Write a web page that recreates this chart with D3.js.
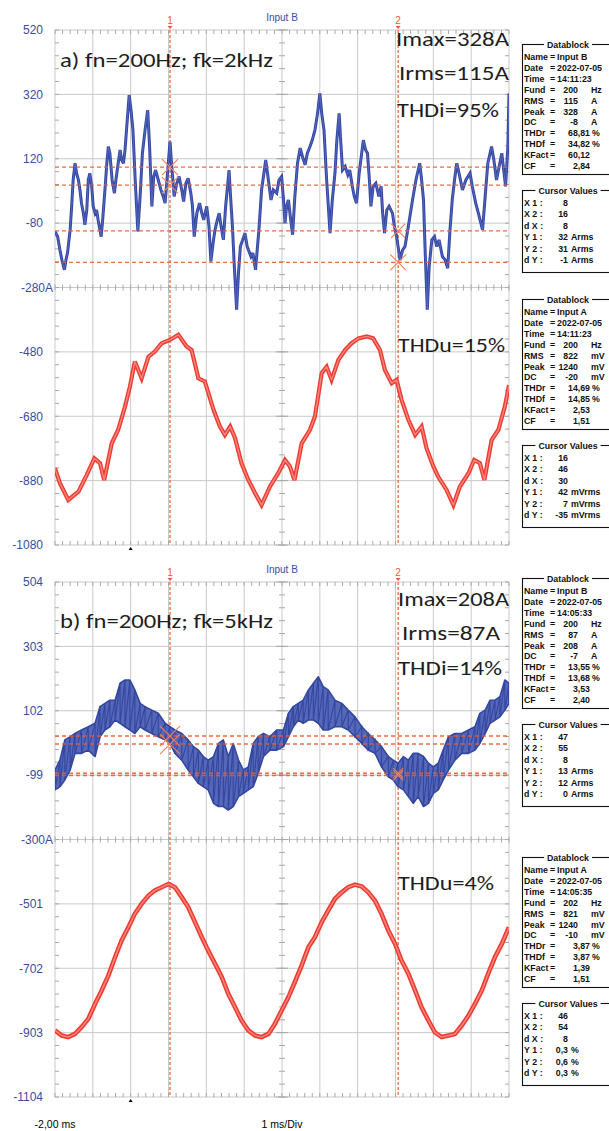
<!DOCTYPE html>
<html>
<head>
<meta charset="utf-8">
<style>
body { margin: 0; background: #fff; }
svg { display: block; }
</style>
</head>
<body>
<div id="area"></div>
<script src="https://d3js.org/d3.v7.min.js"></script>
<script>
// ---------- data (time in ms, value in screen units) ----------
ticksA = [520, 320, 120, -80, -280, -480, -680, -880, -1080];
ticksB = [504, 303, 102, -99, -300, -501, -702, -903, -1104];

// a) current, Input B
tA = [-2.00,-1.93,-1.87,-1.81,-1.75,-1.71,-1.67,-1.60,-1.56,-1.52,-1.47,-1.43,-1.38,-1.34,-1.30,-1.25,-1.21,-1.16,-1.12,-1.08,
      -1.03,-0.99,-0.94,-0.90,-0.86,-0.78,-0.74,-0.68,-0.63,-0.59,-0.55,-0.49,-0.43,-0.39,-0.33,-0.28,-0.24,-0.19,-0.15,-0.11,
      -0.04,0.01,0.06,0.12,0.19,0.25,0.31,0.38,0.45,0.50,0.56,0.61,0.66,0.73,0.80,0.86,0.91,0.96,1.04,1.08,
      1.15,1.22,1.28,1.35,1.40,1.46,1.52,1.59,1.63,1.68,1.75,1.82,1.88,1.93,2.01,2.07,2.12,2.19,2.23,2.29,
      2.34,2.39,2.45,2.51,2.60,2.64,2.69,2.74,2.80,2.85,2.90,2.96,3.02,3.08,3.18,3.23,3.30,3.39,3.46,3.57,
      3.64,3.71,3.77,3.86,3.92,3.99,4.04,4.08,4.12,4.17,4.23,4.28,4.34,4.41,4.48,4.54,4.61,4.67,4.74,4.80,
      4.87,4.94,5.00,5.05,5.11,5.18,5.27,5.33,5.40,5.45,5.51,5.55,5.60,5.67,5.74,5.79,5.86,5.91,5.97,6.04,
      6.15,6.21,6.26,6.31,6.35,6.41,6.48,6.56,6.62,6.66,6.71,6.77,6.83,6.92,6.97,7.03,7.12,7.19,7.25,7.34,
      7.45,7.54,7.64,7.69,7.74,7.78,7.84,7.89,7.96,8.03,8.09,8.15,8.24,8.31,8.38,8.44,8.50,8.56,8.62,8.68,
      8.77,8.86,8.97,9.03,9.12,9.19,9.30,9.35,9.44,9.54,9.60,9.67,9.74,9.81,9.87,9.91,9.97,10.00];
iA = [-106,-122,-163,-199,-225,-194,-173,-101,-28,54,106,75,54,23,-18,-49,-85,-39,54,75,
      34,-28,-49,-39,-70,-122,-70,23,106,158,137,54,13,54,106,147,116,106,147,209,
      318,271,209,54,-106,3,137,209,271,158,-28,65,85,54,23,3,-18,54,173,106,
      3,44,65,23,-13,44,59,13,-23,-122,-49,-18,-49,-70,-28,-90,-199,-132,-101,-70,
      -49,-90,-132,-28,85,3,-90,-215,-349,-235,-153,-132,-111,-153,-184,-173,-225,-101,23,116,
      54,-8,23,13,54,65,-8,-80,-28,-8,-70,-116,3,106,153,127,101,137,158,178,
      209,261,323,261,209,54,-111,-8,75,178,261,178,85,96,70,85,34,3,-18,75,
      178,147,137,54,-28,34,44,3,34,-49,-111,-39,-28,-49,-90,-122,-194,-163,-153,-90,
      -8,54,106,54,-8,-153,-349,-215,-132,-122,-153,-132,-184,-194,-220,-101,-8,54,106,75,
      23,54,75,34,-18,-49,-101,-28,106,158,116,54,96,137,75,34,158,323];

// a) voltage, Input A
tUA = [-2.00,-1.87,-1.65,-1.38,-1.16,-0.96,-0.81,-0.70,-0.50,-0.33,-0.15,-0.02,0.11,0.29,0.47,0.64,0.82,1.04,1.26,1.48,
       1.61,1.79,1.96,2.19,2.36,2.49,2.63,2.76,2.93,3.11,3.29,3.46,3.68,3.90,4.08,4.21,4.33,4.52,4.74,4.87,
       5.05,5.18,5.31,5.49,5.67,5.84,6.02,6.24,6.41,6.59,6.72,6.90,7.03,7.16,7.34,7.52,7.69,7.82,8.00,8.13,
       8.35,8.53,8.70,8.93,9.08,9.23,9.35,9.54,9.72,9.89,10.00];
uA = [-842,-888,-940,-914,-862,-811,-826,-878,-764,-722,-650,-588,-510,-562,-495,-479,-453,-443,-427,-463,
      -474,-562,-572,-660,-712,-738,-712,-748,-826,-878,-919,-956,-899,-857,-816,-836,-878,-764,-722,-681,
      -546,-526,-567,-505,-474,-453,-438,-432,-438,-474,-536,-577,-567,-629,-691,-738,-712,-779,-836,-868,
      -909,-956,-899,-857,-816,-826,-878,-754,-722,-650,-583];

// b) current, Input B (upper / lower edge of the ripple band)
tB = [-2.00,-1.87,-1.74,-1.60,-1.47,-1.30,-1.12,-0.94,-0.81,-0.68,-0.55,-0.41,-0.28,-0.15,-0.02,0.11,0.25,0.38,0.56,0.73,
      0.91,1.04,1.17,1.35,1.52,1.66,1.79,1.92,2.05,2.19,2.32,2.45,2.58,2.71,2.85,2.98,3.11,3.24,3.37,3.51,
      3.68,3.86,4.04,4.17,4.30,4.43,4.56,4.70,4.83,4.96,5.09,5.22,5.40,5.58,5.75,5.93,6.11,6.28,6.46,6.63,
      6.81,6.94,7.07,7.21,7.34,7.47,7.60,7.74,7.87,8.00,8.13,8.26,8.40,8.57,8.75,8.93,9.10,9.23,9.37,9.50,
      9.63,9.76,9.89,10.00];
iBhi = [-83,-52,11,21,31,42,52,63,115,125,135,135,188,198,198,167,125,115,104,94,
        63,52,42,31,11,-10,-21,-41,-52,-41,0,11,-41,0,-52,-83,-73,0,21,31,
        21,42,42,94,115,125,135,167,188,208,177,167,135,125,104,83,52,31,11,-10,
        -41,-52,-62,-41,-52,-31,-31,-41,-62,-73,-62,-21,21,31,31,42,52,94,104,135,
        135,146,198,188];
iBlo = [-145,-135,-114,-83,-31,-31,-21,-41,21,42,52,73,63,52,42,31,52,42,31,21,
        11,0,-31,-52,-83,-104,-125,-135,-145,-187,-197,-197,-208,-197,-166,-156,-145,-135,-93,-41,
        -21,-21,-10,21,52,73,63,73,73,63,42,42,52,52,42,21,0,-21,-31,-73,
        -104,-114,-135,-145,-166,-187,-166,-197,-187,-156,-145,-114,-83,-52,-31,-31,-21,0,31,63,
        73,83,104,125];

// b) voltage, Input A
tUB = [-2.00,-1.82,-1.65,-1.47,-1.30,-1.12,-0.94,-0.77,-0.59,-0.41,-0.24,-0.06,0.11,0.29,0.47,0.64,0.82,1.00,1.17,1.35,
       1.52,1.70,1.88,2.05,2.23,2.41,2.58,2.76,2.93,3.11,3.29,3.46,3.64,3.81,3.99,4.17,4.34,4.52,4.70,4.87,
       5.05,5.22,5.40,5.58,5.75,5.93,6.11,6.28,6.46,6.63,6.81,6.99,7.16,7.34,7.52,7.69,7.87,8.04,8.22,8.40,
       8.57,8.75,8.93,9.10,9.28,9.45,9.63,9.81,10.00];
uB = [-896,-912,-917,-907,-886,-860,-813,-772,-725,-667,-615,-574,-532,-501,-475,-459,-449,-439,-449,-480,
      -511,-558,-605,-647,-688,-730,-782,-824,-865,-896,-912,-917,-907,-876,-834,-792,-745,-693,-636,-605,
      -558,-522,-485,-465,-449,-441,-447,-465,-491,-532,-584,-626,-678,-719,-772,-824,-865,-902,-917,-912,
      -907,-881,-850,-813,-772,-719,-667,-626,-574];

cursorT = [1.04, 7.07];
levelsA = [94, 38, -104, -202];
levelsB = [23, -2, -93, -100];

dbLabels = ["Name", "Date", "Time", "Fund", "RMS", "Peak", "DC", "THDr", "THDf", "KFact", "CF"];
unitsB = ["", "", "", "Hz", "A", "A", "A", "%", "%", "", ""];
unitsA = ["", "", "", "Hz", "mV", "mV", "mV", "%", "%", "", ""];
db1 = ["Input B", "2022-07-05", "14:11:23", "200", "115", "328", "-8", "68,81", "34,82", "60,12", "2,84"];
db2 = ["Input A", "2022-07-05", "14:11:23", "200", "822", "1240", "-20", "14,69", "14,85", "2,53", "1,51"];
db3 = ["Input B", "2022-07-05", "14:05:33", "200", "87", "208", "-7", "13,55", "13,68", "3,53", "2,40"];
db4 = ["Input A", "2022-07-05", "14:05:35", "202", "821", "1240", "-10", "3,87", "3,87", "1,39", "1,51"];
curLabels = ["X 1 :", "X 2 :", "d X :", "Y 1 :", "Y 2 :", "d Y :"];
cur1 = [["8", ""], ["16", ""], ["8", ""], ["32", "Arms"], ["31", "Arms"], ["-1", "Arms"]];
cur2 = [["16", ""], ["46", ""], ["30", ""], ["42", "mVrms"], ["7", "mVrms"], ["-35", "mVrms"]];
cur3 = [["47", ""], ["55", ""], ["8", ""], ["13", "Arms"], ["12", "Arms"], ["0", "Arms"]];
cur4 = [["46", ""], ["54", ""], ["8", ""], ["0,3", "%"], ["0,6", "%"], ["0,3", "%"]];

// ---------- layout ----------
width = 609;
height = 1131;
left = 55;
right = 509;

svg = d3.select("#area").append("svg")
    .attr("width", width)
    .attr("height", height);

x = d3.scaleLinear().domain([-2, 10]).range([left, right]);
yA = d3.scaleLinear().domain([ticksA[8], ticksA[0]]).range([545, 30]);
yB = d3.scaleLinear().domain([ticksB[8], ticksB[0]]).range([1097, 582]);

gridColor = "#c9c9c9";
tickColor = "#a9a9a9";
cursorColor = "#ee5a2c";

function drawGrid(y, ticks, name) {
  const g = svg.append("g");
  const top = y(ticks[0]), bot = y(ticks[8]), mid = y(ticks[4]);
  const step = (ticks[0] - ticks[1]) / 5;

  g.selectAll(".v").data(d3.range(-2, 10.01, 1)).join("line")
      .attr("x1", d => x(d)).attr("x2", d => x(d))
      .attr("y1", top).attr("y2", bot)
      .attr("stroke", gridColor);
  g.selectAll(".h").data(ticks).join("line")
      .attr("x1", left).attr("x2", right)
      .attr("y1", d => y(d)).attr("y2", d => y(d))
      .attr("stroke", gridColor);

  const minorX = d3.range(-2, 10.001, 0.2);
  const minorY = d3.range(ticks[8], ticks[0] + 0.1, step);
  const tk = [];
  minorX.forEach(t => {
    tk.push([x(t), top, x(t), top + 4]);
    tk.push([x(t), mid - 3, x(t), mid + 3]);
    tk.push([x(t), bot - 4, x(t), bot]);
  });
  minorY.forEach(v => {
    tk.push([left, y(v), left + 4, y(v)]);
    tk.push([x(4) - 3, y(v), x(4) + 3, y(v)]);
    tk.push([right - 4, y(v), right, y(v)]);
  });
  ticks.forEach(v => tk.push([x(4) - 6, y(v), x(4) + 6, y(v)]));
  g.selectAll(".tk").data(tk).join("line")
      .attr("x1", d => d[0]).attr("y1", d => d[1])
      .attr("x2", d => d[2]).attr("y2", d => d[3])
      .attr("stroke", tickColor);

  // value labels
  const ax = svg.append("g")
      .attr("transform", `translate(46,0)`)
      .call(d3.axisLeft(y).tickValues(ticks).tickSize(0).tickPadding(3)
        .tickFormat(d => d === ticks[4] ? d + "A" : String(d)));
  ax.select(".domain").remove();
  ax.selectAll("text")
      .attr("font-family", "Liberation Sans, Arial, sans-serif")
      .attr("font-size", 12)
      .attr("fill", "#3b4ba6");
  ax.selectAll(".tick").filter(d => d === ticks[4]).select("text").attr("x", 7);

  // channel title
  svg.append("text")
      .attr("x", x(4)).attr("y", top - 9)
      .attr("text-anchor", "middle")
      .attr("font-family", "Liberation Sans, Arial, sans-serif")
      .attr("font-size", 10)
      .attr("fill", "#3b4ba6")
      .text(name);

  // trigger marker
  svg.append("path")
      .attr("d", `M${x(0) - 2},${bot + 5}L${x(0) + 2},${bot + 5}L${x(0)},${bot + 2}Z`)
      .attr("fill", "#000");
}

// vertical cursors with their numbers
function drawCursors(y, ticks) {
  const g = svg.append("g");
  const top = y(ticks[0]), bot = y(ticks[8]);
  g.selectAll(".cv").data(cursorT).join("line")
      .attr("x1", d => x(d)).attr("x2", d => x(d))
      .attr("y1", top).attr("y2", bot)
      .attr("stroke", cursorColor).attr("stroke-width", 1.2)
      .attr("stroke-dasharray", "3,2");
  g.selectAll(".cn").data(cursorT).join("text")
      .attr("x", d => x(d)).attr("y", top - 6)
      .attr("text-anchor", "middle")
      .attr("font-family", "Liberation Sans, Arial, sans-serif")
      .attr("font-size", 10)
      .attr("fill", cursorColor)
      .text((d, i) => i + 1);
  g.selectAll(".ct").data(cursorT).join("path")
      .attr("d", d => `M${x(d) - 2.5},${top - 4}L${x(d) + 2.5},${top - 4}L${x(d)},${top - 1}Z`)
      .attr("fill", cursorColor);
}

// horizontal cursor levels and the X marks where they meet the cursors
function drawLevels(y, levels, xs) {
  const g = svg.append("g");
  g.selectAll("line").data(levels).join("line")
      .attr("x1", left).attr("x2", right)
      .attr("y1", d => y(d)).attr("y2", d => y(d))
      .attr("stroke", cursorColor).attr("stroke-width", 1.4)
      .attr("stroke-dasharray", "4,3").attr("opacity", 0.9);
  const marks = levels.map((v, i) => [cursorT[i < 2 ? 0 : 1], v, xs[i]]);
  g.selectAll("path").data(marks).join("path")
      .attr("d", d => {
        const cx = x(d[0]), cy = y(d[1]), s = d[2];
        return `M${cx - s},${cy - s}L${cx + s},${cy + s}M${cx - s},${cy + s}L${cx + s},${cy - s}`;
      })
      .attr("stroke", "#f2805a").attr("stroke-width", 1.1).attr("fill", "none");
}

function clipFor(id, y, ticks) {
  svg.append("clipPath").attr("id", id).append("rect")
      .attr("x", left).attr("y", y(ticks[0]))
      .attr("width", right - left).attr("height", y(ticks[8]) - y(ticks[0]));
}

function drawTrace(t, v, y, clip, outer, inner, w, wi) {
  const pts = t.map((d, i) => [d, v[i]]);
  const line = d3.line().x(d => x(d[0])).y(d => y(d[1]));
  const g = svg.append("g").attr("clip-path", `url(#${clip})`);
  g.append("path").datum(pts).attr("d", line)
      .attr("fill", "none").attr("stroke", outer)
      .attr("stroke-width", w).attr("stroke-linejoin", "miter").attr("stroke-miterlimit", 3);
  g.append("path").datum(pts).attr("d", line)
      .attr("fill", "none").attr("stroke", inner)
      .attr("stroke-width", wi).attr("stroke-linejoin", "round");
}

// ---------- chart a ----------
drawGrid(yA, ticksA, "Input B");
clipFor("clipA", yA, ticksA);
drawCursors(yA, ticksA);
drawTrace(tUA, uA, yA, "clipA", "#ee3b30", "#f4867f", 4.2, 1.4);
drawTrace(tA, iA, yA, "clipA", "#3447a4", "#5c6ec2", 3, 0.8);
drawLevels(yA, levelsA, [8, 8, 7, 8]);

// ---------- chart b ----------
drawGrid(yB, ticksB, "Input B");
clipFor("clipB", yB, ticksB);
drawCursors(yB, ticksB);
drawTrace(tUB, uB, yB, "clipB", "#ee3b30", "#f4867f", 4.6, 1.5);

ptsB = tB.map((d, i) => [d, iBhi[i], iBlo[i]]);
gB = svg.append("g").attr("clip-path", "url(#clipB)");
gB.append("path").datum(ptsB)
    .attr("d", d3.area().x(d => x(d[0])).y0(d => yB(d[2])).y1(d => yB(d[1])))
    .attr("fill", "#5567b9").attr("stroke", "#34479f").attr("stroke-width", 1.6)
    .attr("stroke-linejoin", "round");
// peak-detect style: each sample drawn as its min-max bar, joined in order
ripple = ptsB.flatMap(d => [[d[0], d[1]], [d[0], d[2]]]);
gB.append("path").datum(ripple)
    .attr("d", d3.line().x(d => x(d[0])).y(d => yB(d[1])))
    .attr("fill", "none").attr("stroke", "#34479f").attr("stroke-width", 1.1);
drawLevels(yB, levelsB, [10, 10, 5, 5]);

// ---------- x labels ----------
svg.append("text")
    .attr("x", x(-2)).attr("y", 1128)
    .attr("text-anchor", "middle")
    .attr("font-family", "Liberation Sans, Arial, sans-serif")
    .attr("font-size", 10.5)
    .text("-2,00 ms");
svg.append("text")
    .attr("x", x(4)).attr("y", 1128)
    .attr("text-anchor", "middle")
    .attr("font-family", "Liberation Sans, Arial, sans-serif")
    .attr("font-size", 10.5)
    .text("1 ms/Div");

// ---------- annotations ----------
notes = [
  ["a) fn=200Hz; fk=2kHz", 60, 67, 213],
  ["Imax=328A", 396, 46, 113],
  ["Irms=115A", 399, 80, 110],
  ["THDi=95%", 397, 117, 102],
  ["THDu=15%", 398, 352, 107],
  ["b) fn=200Hz; fk=5kHz", 60, 628, 213],
  ["Imax=208A", 398, 606, 111],
  ["Irms=87A", 402, 640, 98],
  ["THDi=14%", 398, 675, 104],
  ["THDu=4%", 398, 890, 96]
];
svg.selectAll(".note").data(notes).join("text")
    .attr("x", d => d[1]).attr("y", d => d[2])
    .attr("textLength", d => d[3])
    .attr("lengthAdjust", "spacingAndGlyphs")
    .attr("font-family", "Carlito, Lato, Open Sans, sans-serif")
    .attr("font-size", 20)
    .attr("fill", "#1e1e1e")
    .text(d => d[0]);

// ---------- data blocks ----------
function drawBlock(y0, vals, units, cur) {
  const g = svg.append("g")
      .attr("font-family", "Liberation Sans, Arial, sans-serif")
      .attr("font-size", 8.8)
      .attr("font-weight", "bold")
      .attr("fill", "#111");
  const boxes = [[y0, y0 + 130, "Datablock"], [y0 + 146, y0 + 228, "Cursor Values"]];
  boxes.forEach(b => {
    g.append("rect").attr("x", 522.5).attr("y", b[0] + 0.5)
        .attr("width", 100).attr("height", b[1] - b[0])
        .attr("fill", "none").attr("stroke", "#111").attr("stroke-width", 1.1);
    const t = g.append("text").attr("x", 568).attr("y", b[0] + 3.5)
        .attr("text-anchor", "middle").text(b[2]);
    const w = t.node().getComputedTextLength();
    g.insert("rect", "text:last-of-type")
        .attr("x", 568 - w / 2 - 3).attr("y", b[0] - 4)
        .attr("width", w + 6).attr("height", 8).attr("fill", "#fff");
  });
  dbLabels.forEach((lab, i) => {
    const yy = y0 + 16 + i * 10.9;
    g.append("text").attr("x", 524).attr("y", yy).text(lab);
    g.append("text").attr("x", 550).attr("y", yy).text("=");
    if (i < 3) {
      g.append("text").attr("x", 557).attr("y", yy).text(vals[i]);
    } else {
      const xr = i >= 7 ? 590 : 578;
      g.append("text").attr("x", xr).attr("y", yy).attr("text-anchor", "end").text(vals[i]);
      if (units[i]) g.append("text").attr("x", i >= 7 ? 592 : 591).attr("y", yy).text(units[i]);
    }
  });
  curLabels.forEach((lab, j) => {
    const yy = y0 + 162 + j * 11.4;
    g.append("text").attr("x", 524).attr("y", yy).text(lab);
    g.append("text").attr("x", 568).attr("y", yy).attr("text-anchor", "end").text(cur[j][0]);
    if (cur[j][1]) g.append("text").attr("x", 571).attr("y", yy).text(cur[j][1]);
  });
}

drawBlock(44, db1, unitsB, cur1);
drawBlock(299, db2, unitsA, cur2);
drawBlock(578, db3, unitsB, cur3);
drawBlock(857, db4, unitsA, cur4);
</script>
</body>
</html>
